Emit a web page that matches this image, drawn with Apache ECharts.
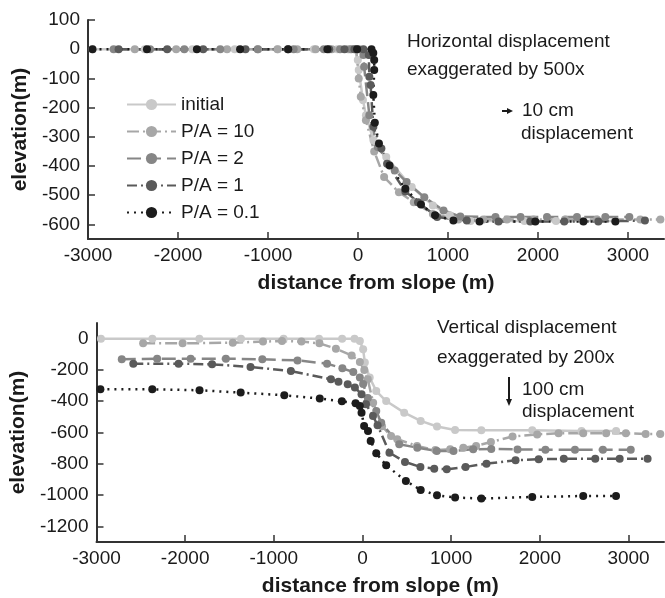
<!DOCTYPE html>
<html>
<head>
<meta charset="utf-8">
<script src="https://cdn.jsdelivr.net/npm/echarts@6/dist/echarts.min.js"></script>
<style>
  html, body { margin: 0; padding: 0; background: #fff; }
  #main { width: 665px; height: 598px; }
</style>
</head>
<body>
<div id="main"></div>
<script>
// series names / legend
var names = ['initial', 'P/A = 10', 'P/A = 2', 'P/A = 1', 'P/A = 0.1'];

// axis ticks
var xTicks = [-3000, -2000, -1000, 0, 1000, 2000, 3000];
var yTicksTop = [100, 0, -100, -200, -300, -400, -500, -600];
var yTicksBottom = [0, -200, -400, -600, -800, -1000, -1200];

// top panel: horizontal displacement (x exaggerated 500x)
var hInitX = [-2950, -2370, -1840, -1370, -890, -490, -230, -90, -30, -2, 8, 55, 88, 172, 314, 597, 832, 1020, 1250, 1550, 1850, 2200, 2500, 2860];
var hInitY = [0, 0, 0, 0, 0, 0, 0, 0, 0, -37, -71, -174, -226, -312, -369, -472, -535, -569, -588, -588, -588, -588, -588, -588];
var hPa10X = [-2480, -2020, -1455, -1110, -895, -675, -470, -290, -110, -20, 8, 31, 88, 180, 290, 455, 620, 832, 1115, 1392, 1655, 1950, 2300, 2656, 3137, 3360];
var hPa10Y = [0, 0, 0, 0, 0, 0, 0, 0, 0, 0, -100, -163, -243, -350, -438, -490, -524, -564, -583, -583, -583, -583, -583, -583, -583, -583];
var hPa2X = [-2715, -2310, -1930, -1530, -1115, -715, -380, -200, -75, 10, 60, 68, 126, 219, 408, 540, 737, 950, 1137, 1528, 1806, 2100, 2433, 2748, 3015];
var hPa2Y = [0, 0, 0, 0, 0, 0, 0, 0, 0, 0, -20, -60, -226, -335, -415, -455, -507, -552, -573, -575, -575, -575, -575, -575, -575];
var hPa1X = [-2660, -2120, -1720, -1250, -780, -320, -150, -40, 60, 120, 126, 140, 170, 260, 323, 526, 667, 879, 1209, 1562, 1914, 2292, 2670, 3188];
var hPa1Y = [0, 0, 0, 0, 0, 0, 0, 0, 0, -20, -94, -123, -266, -340, -392, -487, -524, -575, -587, -590, -590, -590, -590, -587];
var hPa01X = [-2950, -2345, -1790, -1310, -775, -340, -10, 150, 170, 180, 180, 170, 187, 233, 351, 526, 700, 856, 1060, 1350, 1970, 2505, 2860];
var hPa01Y = [0, 0, 0, 0, 0, 0, 0, 0, -13, -37, -71, -157, -252, -323, -398, -478, -532, -569, -587, -590, -590, -590, -590];

// bottom panel: vertical displacement (y exaggerated 200x)
var vInitX = [-2950, -2370, -1840, -1370, -890, -490, -230, -90, -30, 7, 26, 81, 155, 267, 470, 656, 840, 1044, 1340, 1914, 2470, 2860];
var vInitY = [0, 0, 0, 0, 0, 0, 0, 0, -15, -68, -153, -249, -335, -399, -473, -526, -562, -584, -586, -586, -590, -590];
var vPa10X = [-2474, -2029, -1463, -1122, -908, -689, -486, -300, -122, -30, 20, 59, 120, 220, 322, 392, 615, 822, 989, 1137, 1281, 1448, 1692, 1970, 2211, 2489, 2748, 2970, 3193, 3358];
var vPa10Y = [-30, -30, -26, -19, -15, -19, -30, -64, -107, -150, -200, -260, -410, -560, -622, -643, -686, -712, -707, -697, -686, -661, -626, -612, -605, -605, -605, -605, -609, -609];
var vPa2X = [-2715, -2316, -1938, -1541, -1130, -733, -400, -227, -104, -30, 7, 60, 155, 211, 414, 618, 837, 1026, 1248, 1452, 1748, 2063, 2396, 2711, 3025];
var vPa2Y = [-132, -128, -128, -128, -132, -139, -160, -190, -213, -249, -290, -380, -463, -537, -675, -697, -718, -718, -707, -705, -708, -710, -710, -710, -710];
var vPa1X = [-2585, -2074, -1697, -1263, -808, -356, -271, -167, -86, -11, 40, 118, 170, 304, 479, 653, 809, 950, 1162, 1398, 1726, 1987, 2270, 2625, 2900, 3215];
var vPa1Y = [-160, -160, -164, -181, -207, -260, -275, -292, -313, -356, -420, -495, -554, -729, -788, -820, -831, -835, -820, -799, -778, -771, -768, -768, -768, -768];
var vPa01X = [-2956, -2371, -1838, -1374, -882, -482, -233, -78, -30, -11, 18, 62, 92, 155, 267, 489, 656, 840, 1044, 1340, 1914, 2489, 2859];
var vPa01Y = [-324, -324, -330, -345, -362, -383, -401, -413, -431, -473, -558, -590, -654, -733, -810, -910, -967, -1001, -1016, -1022, -1012, -1006, -1006];

var colors = ['#c9c9c9', '#a7a7a7', '#868686', '#5a5a5a', '#1c1c1c'];
var dashes = ['solid', [12, 4, 2, 4], [14, 6], [10, 4, 2, 4], [2, 5]];

function pairs(xs, ys) {
  var out = [];
  for (var i = 0; i < xs.length; i++) {
    out.push([xs[i], ys[i]]);
  }
  return out;
}

var topData = [pairs(hInitX, hInitY), pairs(hPa10X, hPa10Y), pairs(hPa2X, hPa2Y), pairs(hPa1X, hPa1Y), pairs(hPa01X, hPa01Y)];
var bottomData = [pairs(vInitX, vInitY), pairs(vPa10X, vPa10Y), pairs(vPa2X, vPa2Y), pairs(vPa1X, vPa1Y), pairs(vPa01X, vPa01Y)];

var font = 'Liberation Sans, Arial, sans-serif';
var textColor = '#1a1a1a';

// plain numbers, no thousands separator
function plain(v) {
  return String(v);
}

function makeX(idx) {
  return {
    type: 'value',
    gridIndex: idx,
    min: -3000,
    max: 3400,
    name: 'distance from slope (m)',
    nameLocation: 'middle',
    nameGap: 34,
    nameTextStyle: { fontFamily: font, fontSize: 21, fontWeight: 'bold', color: textColor },
    axisLine: { onZero: false, lineStyle: { color: '#333', width: 2 } },
    axisTick: { inside: true, length: 7, lineStyle: { color: '#333', width: 1.5 }, customValues: xTicks },
    axisLabel: { margin: 7, fontFamily: font, fontSize: 19, color: textColor, customValues: xTicks, formatter: plain },
    splitLine: { show: false }
  };
}

function makeY(idx, min, max, ticks) {
  return {
    type: 'value',
    gridIndex: idx,
    min: min,
    max: max,
    name: 'elevation(m)',
    nameLocation: 'middle',
    nameGap: 54,
    nameTextStyle: { fontFamily: font, fontSize: 21, fontWeight: 'bold', color: textColor },
    axisLine: { show: true, onZero: false, lineStyle: { color: '#333', width: 2 } },
    axisTick: { show: true, inside: true, length: 7, lineStyle: { color: '#333', width: 1.5 }, customValues: ticks },
    axisLabel: { margin: 8, fontFamily: font, fontSize: 19, color: textColor, customValues: ticks, formatter: plain },
    splitLine: { show: false }
  };
}

var series = [];
for (var i = 0; i < names.length; i++) {
  var common = {
    name: names[i],
    type: 'line',
    symbol: 'circle',
    symbolSize: 8,
    showSymbol: true,
    animation: false,
    itemStyle: { color: colors[i] },
    lineStyle: { color: colors[i], width: 2.5, type: dashes[i] }
  };
  series.push(Object.assign({}, common, { xAxisIndex: 0, yAxisIndex: 0, data: topData[i] }));
  series.push(Object.assign({}, common, { xAxisIndex: 1, yAxisIndex: 1, data: bottomData[i] }));
}

var chart = echarts.init(document.getElementById('main'), null, { renderer: 'canvas' });

var option = {
  backgroundColor: '#fff',
  animation: false,
  grid: [
    { left: 88, top: 20, width: 576, height: 219 },
    { left: 88, top: 323, width: 576, height: 219 }
  ],
  legend: {
    data: names,
    orient: 'vertical',
    left: 121,
    top: 90,
    itemWidth: 49,
    itemHeight: 14,
    itemGap: 8,
    textStyle: { fontFamily: font, fontSize: 19, color: textColor, lineHeight: 18 }
  },
  xAxis: [makeX(0), makeX(1)],
  yAxis: [makeY(0, -650, 100, yTicksTop), makeY(1, -1300, 100, yTicksBottom)],
  series: series,
  graphic: [
    { type: 'text', left: 407, top: 32, style: { text: 'Horizontal displacement', font: '19px ' + font, fill: textColor } },
    { type: 'text', left: 407, top: 60, style: { text: 'exaggerated by 500x', font: '19px ' + font, fill: textColor } },
    { type: 'line', shape: { x1: 502, y1: 111, x2: 508, y2: 111 }, style: { stroke: textColor, lineWidth: 2 } },
    { type: 'polygon', shape: { points: [[507, 108], [513, 111], [507, 114]] }, style: { fill: textColor } },
    { type: 'text', left: 522, top: 101, style: { text: '10 cm', font: '19px ' + font, fill: textColor } },
    { type: 'text', left: 521, top: 124, style: { text: 'displacement', font: '19px ' + font, fill: textColor } },
    { type: 'text', left: 437, top: 318, style: { text: 'Vertical displacement', font: '19px ' + font, fill: textColor } },
    { type: 'text', left: 437, top: 348, style: { text: 'exaggerated by 200x', font: '19px ' + font, fill: textColor } },
    { type: 'line', shape: { x1: 509, y1: 377, x2: 509, y2: 400 }, style: { stroke: textColor, lineWidth: 2 } },
    { type: 'polygon', shape: { points: [[506, 399], [512, 399], [509, 406]] }, style: { fill: textColor } },
    { type: 'text', left: 522, top: 380, style: { text: '100 cm', font: '19px ' + font, fill: textColor } },
    { type: 'text', left: 522, top: 402, style: { text: 'displacement', font: '19px ' + font, fill: textColor } }
  ]
};

chart.setOption(option);
</script>
</body>
</html>
